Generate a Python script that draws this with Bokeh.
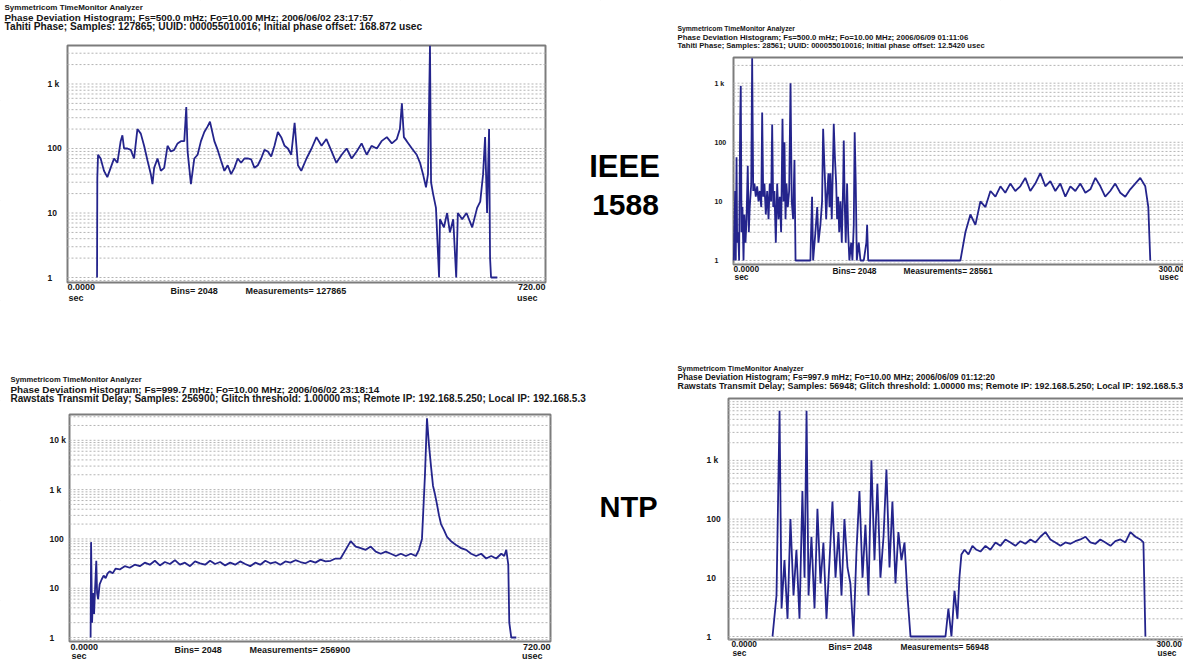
import math
from bokeh.plotting import figure
from bokeh.models import Range1d, Label, LogScale, LinearScale, CanvasTexture
from bokeh.core.properties import value
from bokeh.embed import file_html
from bokeh.resources import INLINE

# ---------------- data ----------------
# Panel 1: IEEE 1588, 2006/06/02, 0..720 usec
p1_us = [44.5, 44.9, 46.0, 49.9, 55.0, 60.0, 65.0, 70.1, 75.1, 80.1, 82.7, 85.2, 90.2, 95.3, 100.3, 105.3, 110.4, 115.4,
         120.5, 125.5, 128.0, 130.5, 135.6, 140.6, 145.6, 150.7, 155.7, 160.7, 165.8, 170.8, 175.9, 178.9, 180.9, 185.9,
         191.0, 196.0, 201.0, 206.1, 211.1, 214.6, 221.2, 226.2, 231.2, 236.3, 241.3, 246.4, 251.4, 256.4, 261.5, 266.5,
         271.5, 276.6, 281.6, 286.7, 291.7, 296.7, 301.8, 306.8, 311.8, 316.9, 321.9, 327.0, 332.0, 337.0, 342.1, 347.1,
         352.1, 360.0, 367.6, 375.0, 382.7, 390.0, 397.8, 405.0, 413.0, 420.5, 428.0, 435.6, 443.0, 450.7, 458.0, 466.0,
         473.0, 481.0, 488.6, 496.0, 500.7, 503.7, 506.7, 511.0, 518.8, 526.0, 531.0, 535.5, 540.0, 543.0, 546.0, 547.6,
         550.6, 555.0, 559.7, 561.0, 567.0, 571.8, 576.0, 581.0, 585.5, 588.0, 594.5, 601.0, 609.6, 617.0, 621.7, 626.0,
         629.0, 632.0, 635.0, 636.5, 638.0, 647.4]
p1_n = [1, 35, 80, 70, 45, 36, 50, 70, 60, 130, 160, 100, 100, 95, 70, 200, 170, 110,
        65, 40, 28, 50, 70, 45, 50, 110, 90, 95, 120, 130, 130, 440, 90, 28,
        70, 80, 130, 180, 220, 260, 130, 95, 65, 45, 55, 40, 50, 70, 60, 70,
        70, 68, 50, 55, 70, 95, 90, 75, 110, 180, 150, 110, 100, 80, 250, 55,
        45, 70, 100, 150, 110, 140, 90, 60, 80, 100, 70, 90, 120, 80, 110, 100,
        130, 150, 120, 140, 200, 500, 150, 130, 100, 80, 60, 40, 25, 40, 3900, 30,
        20, 12, 1, 8, 6, 10, 5, 8, 1, 10, 8, 10, 6, 12, 15, 40,
        150, 10, 200, 2, 1, 1]

# Panel 2: IEEE 1588, 2006/06/09, 0..300 usec
p2_us = [0.2, 1.1, 1.5, 2.0, 2.4, 3.1, 3.7, 4.4, 4.8, 5.3, 5.9, 6.6, 7.2, 7.9, 8.6, 9.4, 10.1, 10.7, 11.7, 12.3,
         13.0, 13.8, 14.7, 15.6, 16.5, 17.3, 18.3, 18.9, 19.6, 20.4, 21.3, 22.2, 23.1, 23.9, 24.8, 25.5, 26.2, 27.0,
         27.9, 28.8, 29.7, 30.5, 31.4, 32.3, 33.0, 33.6, 34.3, 34.9, 35.8, 36.7, 37.6, 38.4, 39.3, 40.2, 40.9, 50.7,
         51.8, 52.5, 54.0, 55.2, 56.0, 57.3, 58.4, 59.1, 59.8, 60.4, 61.1, 61.7, 62.6, 63.3, 63.9, 64.8, 65.7, 66.1,
         66.8, 67.7, 68.3, 69.0, 69.7, 70.5, 71.4, 72.3, 72.7, 73.3, 74.0, 74.9, 75.6, 76.4, 77.6, 78.4, 79.3, 79.9,
         80.6, 81.3, 82.6, 83.7, 85.9, 87.6, 88.1, 88.8, 94.7, 96.9, 123.2, 149.6, 152.9, 156.2, 159.5, 162.8, 166.1,
         169.4, 172.7, 176.0, 179.2, 182.5, 185.8, 189.1, 192.4, 195.7, 199.0, 202.3, 205.6, 208.9, 212.2, 215.5,
         218.8, 222.1, 225.4, 228.7, 232.0, 235.3, 238.6, 241.9, 245.1, 248.4, 251.7, 255.0, 258.3, 261.6, 264.9,
         268.2, 271.5, 273.5, 274.8]
p2_n = [1, 15, 1, 56, 2, 3, 1, 250, 900, 3, 8, 1, 6, 2, 5, 40, 3, 8, 20, 2650,
        15, 20, 12, 18, 10, 15, 8, 320, 12, 20, 6, 15, 5, 20, 10, 200, 8, 15,
        2, 20, 5, 12, 3, 250, 10, 100, 5, 20, 8, 15, 1000, 10, 5, 50, 1, 1,
        12, 1, 3, 8, 2, 4, 10, 170, 50, 20, 5, 12, 30, 8, 30, 5, 60, 205,
        60, 20, 5, 12, 3, 10, 2, 20, 107, 10, 2, 20, 3, 1, 2, 1, 4, 148,
        20, 1, 2, 1, 1, 2, 4, 1, 1, 1, 1, 1, 3, 6, 4, 10, 8,
        15, 12, 18, 14, 20, 15, 18, 25, 15, 20, 30, 18, 22, 15, 20,
        12, 18, 15, 20, 14, 16, 25, 18, 12, 15, 20, 14, 12, 16, 20,
        25, 18, 8, 1]

# Panel 3: NTP, 2006/06/02, 0..720 usec
p3_us = [31.6, 32.3, 33.8, 35.3, 36.8, 38.3, 40.1, 41.3, 42.8, 45.1, 48.1, 51.1, 54.1, 57.1, 60.1, 64.6, 69.1, 75.2,
         82.7, 90.2, 97.7, 105.2, 112.7, 120.2, 127.8, 135.3, 142.8, 150.3, 157.8, 165.3, 172.8, 180.4, 187.9, 195.4,
         202.9, 210.4, 217.9, 225.5, 233.0, 240.5, 248.0, 255.5, 263.0, 270.5, 278.0, 285.6, 293.1, 300.6, 308.1,
         315.6, 323.1, 330.7, 338.2, 345.7, 353.2, 360.7, 368.2, 375.8, 383.3, 390.8, 398.3, 405.8, 413.3, 420.9,
         428.4, 435.9, 443.4, 450.9, 458.4, 465.9, 473.4, 481.0, 488.5, 496.0, 503.5, 511.0, 518.5, 523.0, 527.6,
         532.1, 535.1, 538.1, 541.1, 544.1, 547.1, 550.1, 553.1, 556.1, 560.6, 565.1, 571.1, 578.7, 586.2, 593.7,
         601.2, 608.7, 616.2, 623.7, 631.3, 638.8, 646.3, 650.8, 653.8, 656.8, 658.3, 661.3, 668.8]
p3_n = [1, 86, 2, 8, 3, 10, 36, 8, 6, 12, 15, 18, 16, 20, 22, 20, 25, 24,
        28, 26, 30, 28, 33, 30, 36, 29, 34, 31, 37, 30, 33, 28, 35, 32,
        30, 36, 31, 34, 29, 33, 30, 35, 31, 28, 33, 30, 36, 32, 34,
        30, 35, 33, 37, 34, 32, 36, 33, 38, 35, 36, 40, 40, 60, 90,
        70, 65, 60, 70, 55, 50, 55, 50, 45, 50, 45, 50, 45, 60, 100,
        2000, 28000, 8000, 3000, 1200, 800, 500, 300, 200, 150, 110, 90, 75, 65, 60,
        50, 45, 50, 40, 45, 40, 50, 45, 60, 30, 2, 1, 1]

# Panel 4: NTP, 2006/06/09, 0..300 usec
p4_us = [28.7, 31.3, 33.3, 34.6, 36.5, 38.5, 40.4, 42.4, 44.3, 46.3, 48.2, 49.6, 50.9, 52.2, 54.1, 56.1, 58.0, 60.0,
         61.9, 63.9, 65.9, 67.8, 69.8, 71.7, 73.7, 75.6, 77.6, 79.5, 81.5, 83.5, 85.4, 87.4, 89.3, 91.3, 93.2, 95.2,
         97.1, 99.1, 101.1, 103.0, 105.0, 106.9, 108.9, 110.8, 112.8, 114.8, 116.7, 118.7, 141.5, 143.4, 145.4,
         147.4, 149.3, 150.6, 151.9, 153.9, 156.5, 159.1, 161.7, 164.3, 167.6, 170.8, 174.1, 177.3, 180.6, 183.9,
         187.1, 190.4, 193.6, 196.9, 200.2, 203.4, 206.7, 209.9, 213.2, 216.5, 219.7, 223.0, 226.2, 229.5, 232.8,
         236.0, 239.3, 242.5, 245.8, 249.1, 252.3, 255.6, 258.8, 262.1, 265.4, 268.6, 270.6, 271.9]
p4_n = [1, 5, 7000, 3, 20, 2, 100, 5, 30, 2, 300, 10, 7000, 5, 50, 3, 150, 8,
        40, 2, 20, 200, 10, 60, 5, 100, 15, 8, 1, 30, 300, 10, 80, 5, 1000, 20,
        400, 10, 50, 700, 15, 200, 8, 60, 20, 40, 5, 1, 1, 3, 1,
        6, 2, 10, 25, 30, 25, 35, 30, 28, 35, 30, 40, 35, 45, 40,
        35, 42, 38, 45, 40, 50, 60, 45, 40, 35, 40, 38, 42, 45, 50,
        40, 38, 45, 40, 35, 42, 45, 40, 60, 50, 45, 40, 1]

# axis limits of each panel: (x start, x end, y bottom, y top)
limits = {1: (0, 720, 0.837, 3950), 2: (0, 300, 0.855, 2720), 3: (0, 720, 0.83, 33370), 4: (0, 300, 0.889, 11330)}
y_ticks = {1: [1, 10, 100, 1000], 2: [1, 10, 100, 1000], 3: [1, 10, 100, 1000, 10000], 4: [1, 10, 100, 1000]}
y_tick_text = {1: "1", 10: "10", 100: "100", 1000: "1 k", 10000: "10 k"}

headers = {
    1: ["Symmetricom TimeMonitor Analyzer",
        "Phase Deviation Histogram;  Fs=500.0 mHz; Fo=10.00 MHz; 2006/06/02  23:17:57",
        "Tahiti Phase;  Samples: 127865;  UUID: 000055010016;  Initial phase offset: 168.872 usec"],
    2: ["Symmetricom TimeMonitor Analyzer",
        "Phase Deviation Histogram;  Fs=500.0 mHz; Fo=10.00 MHz; 2006/06/09  01:11:06",
        "Tahiti Phase;  Samples: 28561;  UUID: 000055010016;  Initial phase offset: 12.5420 usec"],
    3: ["Symmetricom TimeMonitor Analyzer",
        "Phase Deviation Histogram;  Fs=999.7 mHz; Fo=10.00 MHz; 2006/06/02  23:18:14",
        "Rawstats Transmit Delay;  Samples: 256900;  Glitch threshold: 1.00000 ms;  Remote IP: 192.168.5.250;  Local IP: 192.168.5.3"],
    4: ["Symmetricom TimeMonitor Analyzer",
        "Phase Deviation Histogram;  Fs=997.9 mHz; Fo=10.00 MHz; 2006/06/09  01:12:20",
        "Rawstats Transmit Delay;  Samples: 56948;  Glitch threshold: 1.00000 ms;  Remote IP: 192.168.5.250;  Local IP: 192.168.5.3"],
}
bins_text = "Bins= 2048"
meas_text = {1: "Measurements= 127865", 2: "Measurements= 28561", 3: "Measurements= 256900", 4: "Measurements= 56948"}
x_start_text = "0.0000"
x_end_text = {1: "720.00", 2: "300.00", 3: "720.00", 4: "300.00"}
side_labels = [("IEEE", 624, 166, "31px"), ("1588", 625, 204, "30px"), ("NTP", 628, 506, "29px")]

# ---------------- layout (pixels of the 1183x661 page) ----------------
W, H = 1183, 661
FONT = "Liberation Sans"
LINE = "#24248c"
TXT = "#161616"

frames = {1: (67, 545, 45, 282), 2: (733, 1188, 57, 264), 3: (69, 550, 414, 641), 4: (728, 1188, 398, 639)}
tick_x = {1: 47, 2: 714, 3: 49, 4: 706}
tick_fs = {1: "8.5px", 2: "7px", 3: "8.5px", 4: "8.5px"}
head_pos = {1: (4, [7, 16.5, 26], ["8px", "9.9px", "10.2px"]),
            2: (677, [28, 36.5, 45], ["6.8px", "7.8px", "7.6px"]),
            3: (10, [379, 388.5, 398], ["7.6px", "9.9px", "10px"]),
            4: (677, [368, 376.5, 385], ["7.3px", "8.5px", "8.9px"])}
# footer: (x0, y_line1, y_line2, x_bins, x_meas, x_end, end_align, fs)
foot_pos = {1: (67, 286, 297, 170, 245, 545, "right", "9px"),
            2: (733, 268, 276, 832, 903, 1158, "left", "8.4px"),
            3: (70, 646, 655, 174, 249, 550, "right", "9px"),
            4: (731, 643, 652, 828, 900, 1156, "left", "8.3px")}

p = figure(width=W, height=H, x_range=Range1d(0, W), y_range=Range1d(H, 0), output_backend="svg",
           toolbar_location=None, min_border=0, x_axis_location=None, y_axis_location=None)
p.title = None
p.outline_line_color = None
p.background_fill_color = "white"
p.border_fill_color = "white"

# page background: sparse 1-pixel dots
dot_tex = CanvasTexture(code="ctx.fillStyle = color; ctx.fillRect(0, 0, 1, 1);")
p.quad(left=[0], right=[W], bottom=[H], top=[0], fill_color="white", line_color=None,
       hatch_pattern="pxdot", hatch_extra={"pxdot": dot_tex}, hatch_color="#a9a9a9", hatch_scale=9,
       hatch_weight=1)


def panel_ranges(k):
    L, R, T, B = frames[k]
    x0, x1, y0, y1 = limits[k]
    kx = (x1 - x0) / (R - L)
    lb, lt = math.log10(y0), math.log10(y1)
    ky = (lt - lb) / (B - T)
    xr = Range1d(x0 - L * kx, x0 + (W - L) * kx)
    yr = Range1d(10 ** (lb - (H - B) * ky), 10 ** (lt + T * ky))
    return xr, yr


def txt(x, y, t, fs, align="left", bold=True, color=TXT):
    p.add_layout(Label(x=x, y=y, text=t, text_font=FONT, text_font_style="bold" if bold else "normal",
                       text_font_size=fs, text_color=color, text_align=align, text_baseline="middle"))


data = {1: (p1_us, p1_n), 2: (p2_us, p2_n), 3: (p3_us, p3_n), 4: (p4_us, p4_n)}
for k in (1, 2, 3, 4):
    xr, yr = panel_ranges(k)
    xn, yn = "x%d" % k, "y%d" % k
    p.extra_x_ranges[xn] = xr
    p.extra_y_ranges[yn] = yr
    p.extra_x_scales[xn] = LinearScale()
    p.extra_y_scales[yn] = LogScale()
    x0, x1, y0, y1 = limits[k]
    L = frames[k][0]
    kw = dict(x_range_name=xn, y_range_name=yn)
    # plot frame
    p.quad(left=[x0], right=[x1], bottom=[y0], top=[y1], fill_color="white", line_color="#7c7c7c",
           line_width=2, **kw)
    # horizontal grid (decades and 2..9 subdivisions)
    grid_vals = [m * 10 ** e for e in range(-1, 5) for m in range(1, 10) if y0 < m * 10 ** e < y1]
    p.segment(x0=[x0] * len(grid_vals), x1=[x1] * len(grid_vals), y0=grid_vals, y1=grid_vals,
              line_color="#b4b4b4", line_width=1, line_dash="2 2", **kw)
    # y tick labels
    tv = y_ticks[k]
    p.text(x=[x0] * len(tv), y=tv, text=[y_tick_text[t] for t in tv], x_offset=tick_x[k] - L,
           text_align="left", text_baseline="middle", text_font=value(FONT), text_font_style="bold",
           text_font_size=value(tick_fs[k]), text_color=TXT, **kw)
    # histogram trace
    xs, ys = data[k]
    p.line(xs, ys, line_color=LINE, line_width=1.8, **kw)

    # header
    hx, hys, hfs = head_pos[k]
    for i, t in enumerate(headers[k]):
        txt(hx, hys[i], t, hfs[i])
    # footer
    fx, fy1, fy2, fb, fm, fe, ea, ffs = foot_pos[k]
    txt(fx, fy1, x_start_text, ffs)
    txt(fx + 1, fy2, "sec", ffs)
    txt(fb, (fy1 + fy2) / 2 - 1.5, bins_text, ffs)
    txt(fm, (fy1 + fy2) / 2 - 1.5, meas_text[k], ffs)
    if ea == "right":
        txt(fe, fy1, x_end_text[k], ffs, "right")
        txt(fe - 8, fy2, "usec", ffs, "right")
    else:
        txt(fe, fy1, x_end_text[k], ffs)
        txt(fe + 1, fy2, "usec", ffs)

for t, x, y, fs in side_labels:
    txt(x, y, t, fs, "center", color="black")

open("out.html", "w").write(file_html(p, INLINE))
